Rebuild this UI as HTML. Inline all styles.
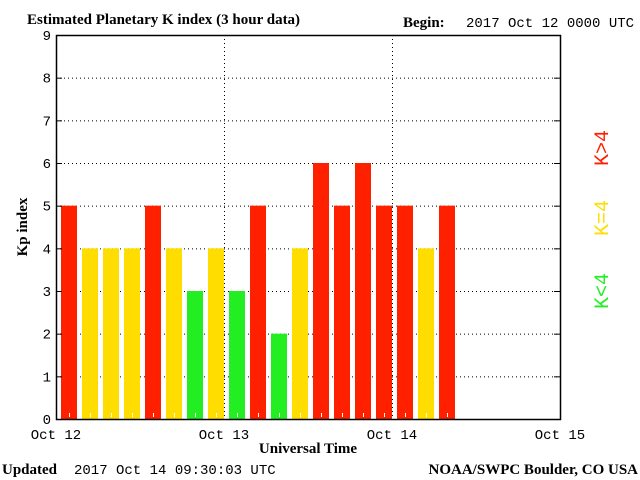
<!DOCTYPE html>
<html><head><meta charset="utf-8"><style>
body{margin:0;background:#fff;}
svg{display:block;}
.mono{font-family:"Liberation Mono",monospace;font-size:14px;}
.bold{font-family:"Liberation Serif",serif;font-weight:bold;font-size:15px;}
</style></head><body>
<svg id="chart" width="640" height="480" viewBox="0 0 640 480" xmlns="http://www.w3.org/2000/svg">
<rect x="0" y="0" width="640" height="480" fill="#fff"/>
<text x="27" y="24" class="bold">Estimated Planetary K index (3 hour data)</text>
<text x="403" y="27" class="bold">Begin:</text>
<text x="466" y="27" class="mono">2017 Oct 12 0000 UTC</text>
<g id="grid"></g>
<g id="bars"></g>
<g id="axes"></g>
<text transform="translate(27,227) rotate(-90)" text-anchor="middle" class="bold">Kp index</text>
<text x="308" y="453" text-anchor="middle" class="bold">Universal Time</text>
<text x="2" y="474" class="bold">Updated</text>
<text x="74" y="474" class="mono">2017 Oct 14 09:30:03 UTC</text>
<text x="638" y="474" text-anchor="end" class="bold">NOAA/SWPC Boulder, CO USA</text>
<text transform="translate(608,148) rotate(-90)" text-anchor="middle" class="mono" font-size="20" fill="#ff2000" style="font-size:20px">K&gt;4</text>
<text transform="translate(608,218) rotate(-90)" text-anchor="middle" class="mono" fill="#ffdd00" style="font-size:20px">K=4</text>
<text transform="translate(608,291) rotate(-90)" text-anchor="middle" class="mono" fill="#22ee22" style="font-size:20px">K&lt;4</text>
</svg>
<script>
const kpValues=[5,4,4,4,5,4,3,4,3,5,2,4,6,5,6,5,5,4,5];
const dayLabels=["Oct 12","Oct 13","Oct 14","Oct 15"];
const yTicks=[0,1,2,3,4,5,6,7,8,9];
const NS="http://www.w3.org/2000/svg";
const X0=56,X1=560,Y0=419,Y1=35;
const totalSlots=24;
function xs(i){return X0+(X1-X0)*i/totalSlots;}
function ys(v){return Y0-(Y0-Y1)*v/9;}
function mk(tag,attrs,parent){const e=document.createElementNS(NS,tag);for(const k in attrs)e.setAttribute(k,attrs[k]);parent.appendChild(e);return e;}
const grid=document.getElementById('grid'),bars=document.getElementById('bars'),axes=document.getElementById('axes');
yTicks.forEach(v=>{
  if(v>0&&v<9){const l=mk('line',{x1:X0,x2:X1,y1:ys(v)+0.5,y2:ys(v)+0.5,stroke:'#000','stroke-dasharray':'1,3'},grid);
  
  }
  const t=mk('text',{x:X0-5,y:ys(v)+5,'text-anchor':'end',class:'mono'},axes);t.textContent=v;
  
  
  const tk=mk('line',{x1:X1-6,x2:X1,y1:ys(v)+0.5,y2:ys(v)+0.5,stroke:'#000'},axes);
  
  
  const tl=mk('line',{x1:X0,x2:X0+6,y1:ys(v)+0.5,y2:ys(v)+0.5,stroke:'#000'},axes);
  
  
});
dayLabels.forEach((d,i)=>{
  const x=X0+(X1-X0)*i/3;
  if(i>0&&i<3){const l=mk('line',{x1:x+0.5,x2:x+0.5,y1:Y1,y2:Y0,stroke:'#000','stroke-dasharray':'1,3'},grid);
  
  }
  const t=mk('text',{x:x,y:439,'text-anchor':'middle',class:'mono'},axes);t.textContent=d;
  
  
});
kpValues.forEach((v,i)=>{
  const c=v>4?'#ff2000':(v==4?'#ffdd00':'#22ee22');
  const x=xs(i)+5,w=16;
  const r=mk('rect',{x:x,y:ys(v),width:w,height:Y0-ys(v),fill:c},bars);
  
  
  const tk=mk('line',{x1:x+8.5,x2:x+8.5,y1:Y0-6,y2:Y0-2,stroke:'#fff'},bars);
  
  
});
const fr=mk('rect',{x:X0+0.5,y:Y1+0.5,width:X1-X0,height:Y0-Y1,fill:'none',stroke:'#000','stroke-width':1.5},axes);


</script>
</body></html>
